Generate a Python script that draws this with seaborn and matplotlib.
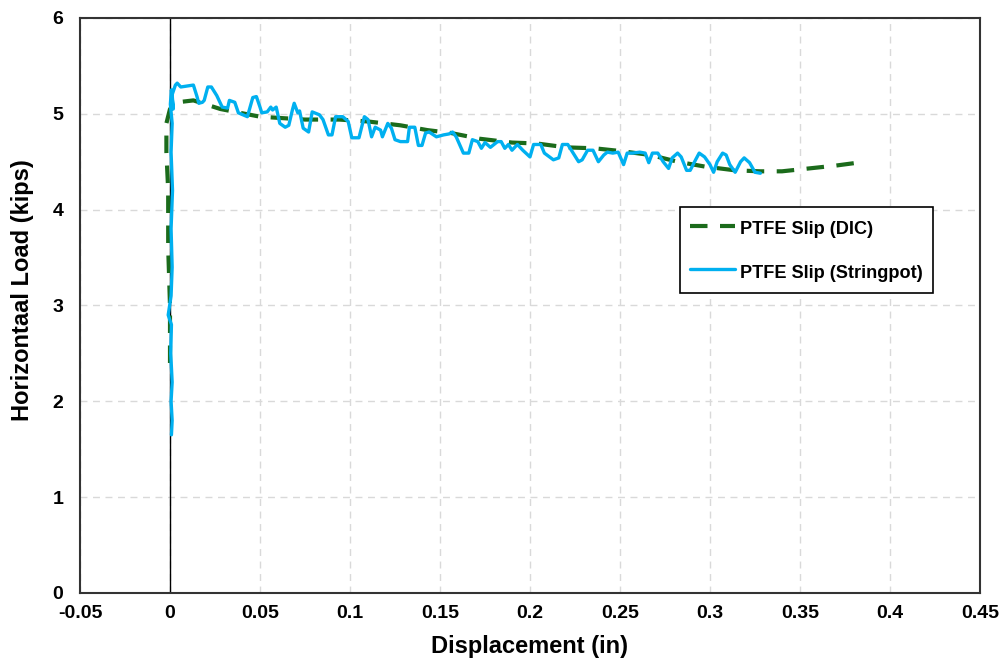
import matplotlib
matplotlib.use("Agg")
import matplotlib.pyplot as plt
import seaborn as sns
import pandas as pd

# ---- data ----
dic_x = [0.0, 0.0, -0.001, -0.001, -0.002, -0.002, 0.0, 0.004, 0.013, 0.028, 0.05,
         0.075, 0.094, 0.11, 0.128, 0.143, 0.156, 0.172, 0.19, 0.204, 0.22,
         0.236, 0.251, 0.267, 0.282, 0.297, 0.314, 0.328, 0.34, 0.355, 0.37, 0.382]
dic_y = [2.4, 3.0, 3.6, 4.2, 4.6, 4.9, 5.05, 5.12, 5.14, 5.05, 4.97,
         4.94, 4.94, 4.92, 4.88, 4.83, 4.80, 4.74, 4.70, 4.69, 4.65,
         4.64, 4.61, 4.57, 4.50, 4.45, 4.41, 4.40, 4.40, 4.43, 4.46, 4.49]

pot_x = [0.0008, 0.0012, 0.0006, 0.0012, 0.0004, 0.0008, -0.0010, 0.0006, 0.0012, 0.0006, 0.0014,
         0.0006, 0.0012, 0.0002, 0.0008, 0.0018, 0.0012,
         0.003, 0.004, 0.006, 0.013, 0.015, 0.016, 0.018, 0.019, 0.021, 0.023, 0.026,
         0.029, 0.032, 0.033, 0.036, 0.038, 0.043, 0.046, 0.048, 0.050, 0.051, 0.054,
         0.056, 0.057, 0.059, 0.061, 0.064, 0.066, 0.068, 0.069, 0.071, 0.072, 0.074,
         0.077, 0.079, 0.083, 0.085, 0.088, 0.090, 0.092, 0.096, 0.099, 0.101, 0.105,
         0.107, 0.108, 0.110, 0.112, 0.114, 0.117, 0.118, 0.121, 0.123, 0.125, 0.128,
         0.132, 0.133, 0.136, 0.138, 0.140, 0.142, 0.144, 0.148, 0.152, 0.155, 0.157,
         0.159, 0.163, 0.166, 0.168, 0.171, 0.173, 0.175, 0.178, 0.182, 0.184, 0.186,
         0.188, 0.190, 0.193, 0.196, 0.200, 0.202, 0.206, 0.208, 0.213, 0.216, 0.218,
         0.221, 0.224, 0.227, 0.229, 0.232, 0.235, 0.238, 0.241, 0.243, 0.246, 0.249,
         0.252, 0.254, 0.257, 0.261, 0.264, 0.266, 0.268, 0.271, 0.274, 0.277, 0.279,
         0.282, 0.284, 0.287, 0.289, 0.292, 0.294, 0.297, 0.300, 0.302, 0.304, 0.307,
         0.309, 0.311, 0.314, 0.317, 0.319, 0.322, 0.325, 0.328]
pot_y = [1.65, 1.8, 2.0, 2.2, 2.5, 2.8, 2.9, 3.1, 3.4, 3.8, 4.2,
         4.6, 4.9, 5.1, 5.25, 5.05, 5.2,
         5.30, 5.32, 5.28, 5.30, 5.18, 5.11, 5.12, 5.14, 5.28, 5.28, 5.19,
         5.07, 5.06, 5.14, 5.12, 5.01, 4.97, 5.17, 5.18, 5.07, 5.01, 5.02,
         5.07, 5.04, 5.07, 4.90, 4.86, 4.88, 5.04, 5.11, 5.01, 5.03, 4.85,
         4.81, 5.02, 4.99, 4.94, 4.78, 4.78, 4.97, 4.97, 4.92, 4.75, 4.75,
         4.90, 4.97, 4.94, 4.76, 4.86, 4.83, 4.76, 4.90, 4.85, 4.73, 4.71,
         4.71, 4.86, 4.86, 4.67, 4.67, 4.80, 4.81, 4.76, 4.78, 4.79, 4.81,
         4.76, 4.59, 4.59, 4.73, 4.71, 4.64, 4.70, 4.65, 4.71, 4.71, 4.64,
         4.68, 4.62, 4.68, 4.62, 4.55, 4.68, 4.68, 4.59, 4.52, 4.54, 4.68,
         4.68, 4.59, 4.50, 4.52, 4.62, 4.62, 4.50, 4.57, 4.60, 4.59, 4.60,
         4.47, 4.59, 4.59, 4.60, 4.59, 4.49, 4.59, 4.59, 4.50, 4.43, 4.54,
         4.59, 4.55, 4.41, 4.41, 4.52, 4.59, 4.55, 4.47, 4.39, 4.50, 4.59,
         4.57, 4.47, 4.39, 4.50, 4.54, 4.49, 4.39, 4.38]

x_ticks = [-0.05, 0, 0.05, 0.1, 0.15, 0.2, 0.25, 0.3, 0.35, 0.4, 0.45]
x_tick_labels = ["-0.05", "0", "0.05", "0.1", "0.15", "0.2", "0.25", "0.3", "0.35", "0.4", "0.45"]
y_ticks = [0, 1, 2, 3, 4, 5, 6]

series_names = ["PTFE Slip (DIC)", "PTFE Slip (Stringpot)"]

# ---- figure ----
sns.set_style("white")
plt.rcParams['font.family'] = ['Liberation Sans', 'DejaVu Sans']

fig = plt.figure(figsize=(10.05, 6.61), dpi=100)
ax = fig.add_axes([0.0796, 0.1029, 0.8955, 0.8699])

df_dic = pd.DataFrame({"x": dic_x, "y": dic_y})
df_pot = pd.DataFrame({"x": pot_x, "y": pot_y})

ax.axvline(0, color="black", lw=1.0, zorder=1)

sns.lineplot(data=df_dic, x="x", y="y", sort=False, estimator=None, ax=ax,
             color="#1B6B1B", lw=3.0, dashes=False, label=series_names[0], zorder=3)
sns.lineplot(data=df_pot, x="x", y="y", sort=False, estimator=None, ax=ax,
             color="#00B0F0", lw=2.4, label=series_names[1], zorder=4)
ax.lines[1].set_dashes([4.2, 3.0])

ax.set_xlim(-0.05, 0.45)
ax.set_ylim(0, 6)
ax.set_xticks(x_ticks)
ax.set_xticklabels(x_tick_labels)
ax.set_yticks(y_ticks)
ax.tick_params(axis="x", length=0, labelsize=14, pad=9, labelcolor="black")
ax.tick_params(axis="y", length=0, labelsize=14, pad=12, labelcolor="black")
for lab in ax.get_xticklabels() + ax.get_yticklabels():
    lab.set_fontweight("bold")

ax.grid(True, color="#D9D9D9", ls=(0, (5, 4)), lw=1.0, zorder=0)
ax.set_axisbelow(True)
for sp in ax.spines.values():
    sp.set_color("#333333")
    sp.set_linewidth(1.5)
    sp.set_visible(True)

ax.set_xlabel("Displacement (in)", fontsize=17, fontweight="bold", labelpad=9, color="black")
ax.set_ylabel("Horizontaal Load (kips)", fontsize=17, fontweight="bold", color="black")
ax.yaxis.set_label_coords(-0.051, 0.527)

leg = ax.legend(loc="upper left", bbox_to_anchor=(0.667, 0.671),
                prop={"weight": "bold", "size": 13.1},
                frameon=True, fancybox=False, edgecolor="black", framealpha=1,
                handlelength=2.45, handleheight=1.47, labelspacing=1.2,
                borderpad=0.55, handletextpad=0.27, borderaxespad=0)
leg.get_frame().set_linewidth(1.2)
leg.get_lines()[0].set_dashes([4.2, 3.0])
for t in leg.get_texts():
    t.set_color("black")

fig.savefig("out.png", dpi=100)
